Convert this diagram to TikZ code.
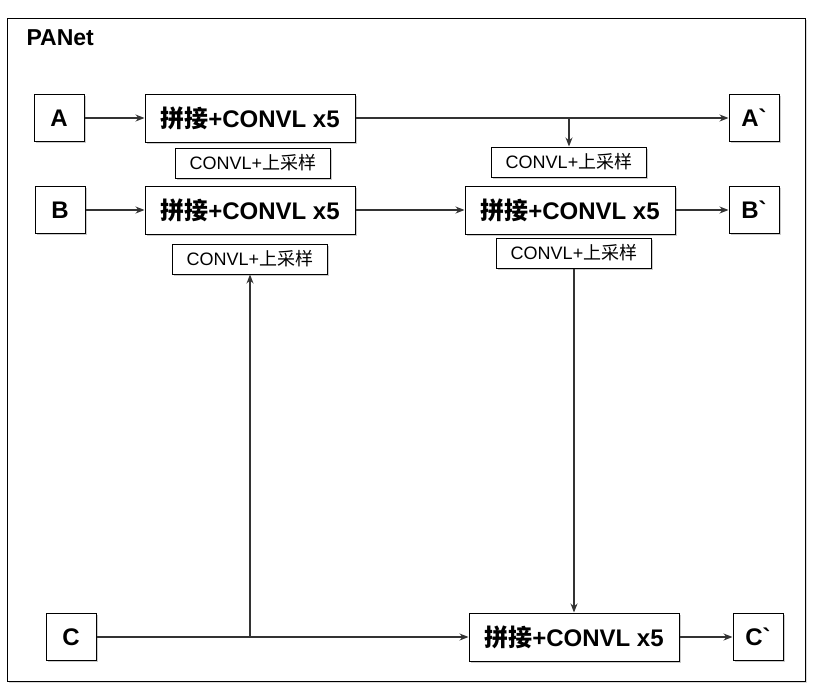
\documentclass[tikz,border=0pt]{standalone}
\usepackage{fontspec}
\setmainfont{Liberation Sans}[Ligatures=TeXOff]
\newfontfamily\cjk{Noto Sans CJK SC}
\usetikzlibrary{arrows.meta,shadows}
\tikzset{
  shade box/.style={draw=black, line width=1pt, fill=white,
    drop shadow={shadow xshift=1.5pt, shadow yshift=-1.5pt, fill=gray, opacity=0.4}},
  box/.style={shade box, minimum width=50pt, minimum height=47pt, inner sep=0pt,
    font=\fontsize{24}{27}\selectfont\bfseries},
  bigbox/.style={shade box, minimum width=210pt, minimum height=48pt, inner sep=0pt,
    font=\fontsize{24}{27}\selectfont\bfseries},
  smallbox/.style={shade box, minimum width=155pt, minimum height=30pt, inner sep=0pt,
    font=\fontsize{18}{21}\selectfont},
  arr/.style={draw=black!80, line width=1.1pt, -{Stealth[length=9pt,width=7pt]}},
}
\begin{document}
\begin{tikzpicture}[x=1pt, y=-1pt]
  \useasboundingbox (0,0) rectangle (822,699);
  % outer frame
  \draw[line width=1pt, fill=white,
    drop shadow={shadow xshift=2pt, shadow yshift=-2pt, fill=gray, opacity=0.3}]
    (7,18) rectangle (805,681);
  \node [anchor=west, font=\fontsize{23}{26}\selectfont\bfseries] (title) at (23,38) {PANet};
  % inputs
  \node [box] (A) at (59,118) {A};
  \node [box] (B) at (60,210) {B};
  \node [box] (C) at (71,637) {C};
  % concat blocks
  \node [bigbox] (cat1) at (250,118) {{\cjk 拼接}+CONVL x5};
  \node [bigbox] (cat2) at (250,210) {{\cjk 拼接}+CONVL x5};
  \node [bigbox] (cat3) at (570,210) {{\cjk 拼接}+CONVL x5};
  \node [bigbox] (cat4) at (574,637) {{\cjk 拼接}+CONVL x5};
  % upsampling labels
  \node [smallbox] (up1) at (253,163) {CONVL+{\cjk 上采样}};
  \node [smallbox] (up2) at (250,259) {CONVL+{\cjk 上采样}};
  \node [smallbox] (up3) at (569,162) {CONVL+{\cjk 上采样}};
  \node [smallbox] (up4) at (574,253) {CONVL+{\cjk 上采样}};
  % outputs
  \node [box] (Ao) at (754,118) {A\symbol{96}};
  \node [box] (Bo) at (754,210) {B\symbol{96}};
  \node [box] (Co) at (758,637) {C\symbol{96}};
  % connectors
  \draw [arr] (A) -- (cat1);
  \draw [arr] (cat1) -- (Ao);
  \draw [arr] (up3.north |- cat1.east) -- (up3.north);
  \draw [arr] (B) -- (cat2);
  \draw [arr] (cat2) -- (cat3);
  \draw [arr] (cat3) -- (Bo);
  \draw [arr] (C) -- (cat4);
  \draw [arr] (up2.south |- C.east) -- (up2.south);
  \draw [arr] (up4) -- (cat4);
  \draw [arr] (cat4) -- (Co);
\end{tikzpicture}
\end{document}
